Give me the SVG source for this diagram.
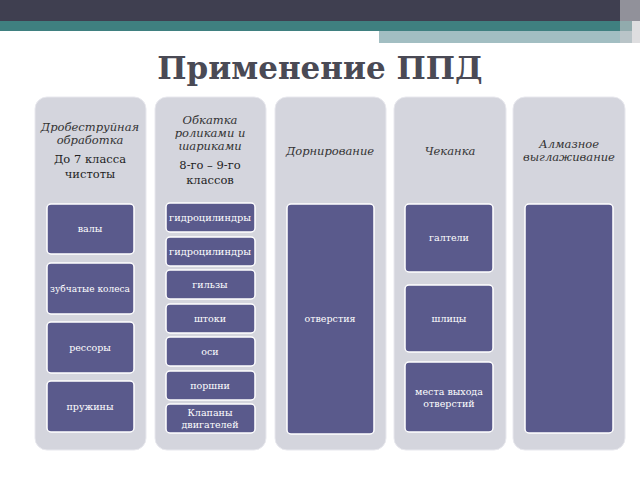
<svg xmlns="http://www.w3.org/2000/svg" width="640" height="480" viewBox="0 0 640 480">
<style>
.col{fill:#d4d5dd;stroke:#e8e8ee;stroke-width:1}
.box{fill:#5a5a8c;stroke:#ffffff;stroke-width:1.5}
.h{font-family:"DejaVu Serif",serif;font-style:italic;font-size:11.5px;fill:#333;text-anchor:middle}
.s{font-family:"DejaVu Serif",serif;font-size:11.5px;fill:#222;text-anchor:middle}
.t{font-family:"DejaVu Serif",serif;font-size:9.5px;fill:#fff;text-anchor:middle}
</style>
<rect width="640" height="480" fill="#fff"/>
<rect x="0" y="0" width="640" height="21" fill="#3f3f50"/>
<rect x="0" y="21" width="632" height="10" fill="#3f8080"/>
<rect x="379" y="31" width="253" height="12" fill="#a2bec2"/>
<rect x="620" y="0" width="20" height="43" fill="#c8c8cc" opacity="0.6"/>
<text x="320" y="79" font-family="DejaVu Serif,serif" font-weight="bold" font-size="31" fill="#4a4a55" text-anchor="middle">Применение ППД</text>
<g id="col1"><rect class="col" x="35" y="97" width="111" height="353" rx="12"/>
<text class="h" x="90" y="131">Дробеструйная</text><text class="h" x="90" y="144">обработка</text>
<text class="s" x="90" y="163">До 7 класса</text><text class="s" x="90" y="178">чистоты</text>
<rect class="box" x="47" y="204" width="87" height="50" rx="4"/><text class="t" x="90" y="232">валы</text>
<rect class="box" x="47" y="263" width="87" height="51" rx="4"/><text class="t" x="90" y="292" textLength="80" lengthAdjust="spacingAndGlyphs">зубчатые колеса</text>
<rect class="box" x="47" y="322" width="87" height="51" rx="4"/><text class="t" x="90" y="351">рессоры</text>
<rect class="box" x="47" y="381" width="87" height="51" rx="4"/><text class="t" x="90" y="410">пружины</text></g>
<g id="col2"><rect class="col" x="155" y="97" width="111" height="353" rx="12"/>
<text class="h" x="210" y="124">Обкатка</text><text class="h" x="210" y="137">роликами и</text><text class="h" x="210" y="150">шариками</text>
<text class="s" x="210" y="169">8-го – 9-го</text><text class="s" x="210" y="184">классов</text>
<rect class="box" x="166" y="203" width="89" height="29" rx="4"/><text class="t" x="210" y="221" textLength="82" lengthAdjust="spacingAndGlyphs">гидроцилиндры</text>
<rect class="box" x="166" y="237" width="89" height="29" rx="4"/><text class="t" x="210" y="255" textLength="82" lengthAdjust="spacingAndGlyphs">гидроцилиндры</text>
<rect class="box" x="166" y="270" width="89" height="29" rx="4"/><text class="t" x="210" y="288">гильзы</text>
<rect class="box" x="166" y="304" width="89" height="29" rx="4"/><text class="t" x="210" y="322">штоки</text>
<rect class="box" x="166" y="337" width="89" height="29" rx="4"/><text class="t" x="210" y="355">оси</text>
<rect class="box" x="166" y="371" width="89" height="29" rx="4"/><text class="t" x="210" y="389">поршни</text>
<rect class="box" x="166" y="404" width="89" height="29" rx="4"/><text class="t" x="210" y="416">Клапаны</text><text class="t" x="210" y="428">двигателей</text></g>
<g id="col3"><rect class="col" x="275" y="97" width="111" height="353" rx="12"/>
<text class="h" x="330" y="155">Дорнирование</text>
<rect class="box" x="287" y="204" width="87" height="230" rx="4"/><text class="t" x="330" y="322">отверстия</text></g>
<g id="col4"><rect class="col" x="394" y="97" width="112" height="353" rx="12"/>
<text class="h" x="450" y="155">Чеканка</text>
<rect class="box" x="405" y="204" width="88" height="68" rx="4"/><text class="t" x="449" y="241">галтели</text>
<rect class="box" x="405" y="285" width="88" height="67" rx="4"/><text class="t" x="449" y="322">шлицы</text>
<rect class="box" x="405" y="362" width="88" height="70" rx="4"/><text class="t" x="449" y="395">места выхода</text><text class="t" x="449" y="407">отверстий</text></g>
<g id="col5"><rect class="col" x="513" y="97" width="112" height="353" rx="12"/>
<text class="h" x="569" y="148">Алмазное</text><text class="h" x="569" y="161">выглаживание</text>
<rect class="box" x="525" y="204" width="88" height="229" rx="4"/></g>
<g id="connectors"/>
</svg>
